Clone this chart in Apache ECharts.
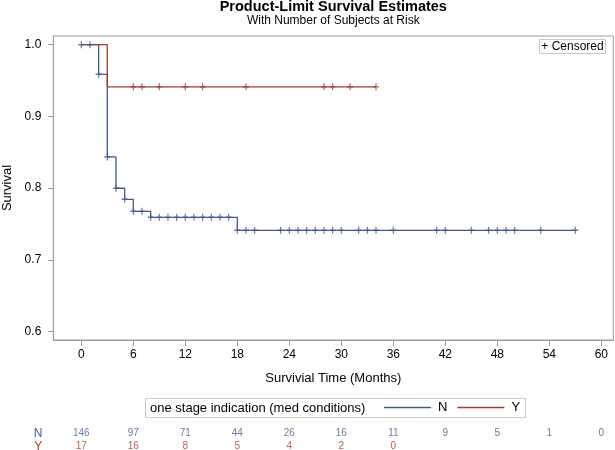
<!DOCTYPE html>
<html>
<head>
<meta charset="utf-8">
<script src="https://cdn.jsdelivr.net/npm/echarts@6/dist/echarts.min.js"></script>
<style>html,body{margin:0;padding:0;background:#fff}#c{width:615px;height:450px}</style>
</head>
<body>
<div id="c"></div>
<script>
// ---- data ----
var xTicks = [0, 6, 12, 18, 24, 30, 36, 42, 48, 54, 60];
var yTicks = [0.6, 0.7, 0.8, 0.9, 1.0];
// step curves [time, survival]
var curveN = [[0, 1.0], [2, 0.9587], [3, 0.8435], [4, 0.7999], [5, 0.7845], [6, 0.7678], [8, 0.7594], [18, 0.7413], [57, 0.7413]];
var curveY = [[0, 1.0], [3, 0.9412], [34, 0.9412]];
// censored observations [time, survival]
var censN = [[0, 1.0], [1, 1.0], [2, 0.9587], [3, 0.8435], [4, 0.7999], [5, 0.7845], [6, 0.7678], [7, 0.7678],
  [8, 0.7594], [9, 0.7594], [10, 0.7594], [11, 0.7594], [12, 0.7594], [13, 0.7594], [14, 0.7594], [15, 0.7594], [16, 0.7594], [17, 0.7594],
  [18, 0.7413], [19, 0.7413], [20, 0.7413], [23, 0.7413], [24, 0.7413], [25, 0.7413], [26, 0.7413], [27, 0.7413], [28, 0.7413],
  [29, 0.7413], [30, 0.7413], [32, 0.7413], [33, 0.7413], [34, 0.7413], [36, 0.7413], [41, 0.7413], [42, 0.7413], [45, 0.7413],
  [47, 0.7413], [48, 0.7413], [49, 0.7413], [50, 0.7413], [53, 0.7413], [57, 0.7413]];
var censY = [[6, 0.9412], [7, 0.9412], [9, 0.9412], [12, 0.9412], [14, 0.9412], [19, 0.9412], [28, 0.9412], [29, 0.9412], [31, 0.9412], [34, 0.9412]];
// number at risk
var riskTimesN = [0, 6, 12, 18, 24, 30, 36, 42, 48, 54, 60];
var riskN = [146, 97, 71, 44, 26, 16, 11, 9, 5, 1, 0];
var riskTimesY = [0, 6, 12, 18, 24, 30, 36];
var riskY = [17, 16, 8, 5, 4, 2, 0];
var groups = ['N', 'Y'];

var BLUE = '#445694', RED = '#A23A2E', AX = '#9c9c9c';
var FONT = '"Liberation Sans", Arial, sans-serif';
var plus = 'path://M5,0L5,10M0,5L10,5';

var chart = echarts.init(document.getElementById('c'), null, {renderer: 'canvas'});
var XMIN = -3.23, XMAX = 61.38;

var riskDataN = riskTimesN.map(function (t, i) { return [t, 'N', riskN[i]]; });
var riskDataY = riskTimesY.map(function (t, i) { return [t, 'Y', riskY[i]]; });

chart.setOption({
  animation: false,
  textStyle: {fontFamily: FONT},
  grid: [
    {left: 53.3, right: 1.7, top: 36, height: 304, show: true, borderColor: AX, borderWidth: 1, containLabel: false, outerBoundsMode: 'none'},
    {left: 53.3, right: 1.7, top: 427, height: 26, show: false, containLabel: false, outerBoundsMode: 'none'}
  ],
  xAxis: [{
    type: 'value', gridIndex: 0, min: XMIN, max: XMAX,
    name: 'Survivial Time (Months)', nameLocation: 'middle', nameGap: 32,
    nameTextStyle: {fontSize: 13, color: '#000', fontFamily: FONT},
    axisLine: {show: true, onZero: false, lineStyle: {color: AX}},
    axisTick: {show: true, length: 6, lineStyle: {color: AX}, customValues: xTicks},
    axisLabel: {fontSize: 12, color: '#000', margin: 9, customValues: xTicks, fontFamily: FONT},
    splitLine: {show: false}
  }, {
    type: 'value', gridIndex: 1, min: XMIN, max: XMAX, show: false
  }],
  yAxis: [{
    type: 'value', gridIndex: 0, min: 0.5884, max: 1.0121,
    name: 'Survival', nameLocation: 'middle', nameGap: 38, nameRotate: 90,
    nameTextStyle: {fontSize: 13, color: '#000', fontFamily: FONT},
    axisLine: {show: true, onZero: false, lineStyle: {color: AX}},
    axisTick: {show: true, length: 5, lineStyle: {color: AX}, customValues: yTicks},
    axisLabel: {fontSize: 12, color: '#000', margin: 12, customValues: yTicks, fontFamily: FONT,
      formatter: function (v) { return v.toFixed(1); }},
    splitLine: {show: false}
  }, {
    type: 'category', gridIndex: 1, data: groups, inverse: true,
    axisLine: {show: false}, axisTick: {show: false},
    axisLabel: {fontSize: 12, margin: 11, interval: 0, fontFamily: FONT,
      color: function (v) { return v === 'N' ? BLUE : RED; }}
  }],
  legend: {
    data: [{name: 'N'}, {name: 'Y'}],
    left: 384, top: 401, padding: 0, itemGap: 10,
    itemWidth: 47, itemHeight: 1.3, icon: 'rect',
    textStyle: {fontSize: 13, color: '#000', fontFamily: FONT, padding: [0, 0, 0, 2]},
    selectedMode: false
  },
  graphic: [
    {type: 'text', x: 333.3, y: 7, style: {text: 'Product-Limit Survival Estimates', fill: '#000', align: 'center', verticalAlign: 'middle', font: 'bold 14.5px ' + FONT}},
    {type: 'text', x: 333.3, y: 21, style: {text: 'With Number of Subjects at Risk', fill: '#000', align: 'center', verticalAlign: 'middle', font: '12px ' + FONT}},
    {type: 'rect', shape: {x: 539.5, y: 39.5, width: 66, height: 14}, style: {fill: '#fff', stroke: '#c8c8c8', lineWidth: 1}, z: 50},
    {type: 'text', x: 572.5, y: 47, style: {text: '+ Censored', fill: '#000', align: 'center', verticalAlign: 'middle', font: '12px ' + FONT}, z: 51},
    {type: 'rect', shape: {x: 145.5, y: 398.5, width: 380, height: 19}, style: {fill: 'none', stroke: '#c8c8c8', lineWidth: 1}},
    {type: 'text', x: 150, y: 408, style: {text: 'one stage indication (med conditions)', fill: '#000', align: 'left', verticalAlign: 'middle', font: '13px ' + FONT}}
  ],
  series: [
    {name: 'N', type: 'line', step: 'end', data: curveN, xAxisIndex: 0, yAxisIndex: 0, showSymbol: false, symbol: 'none',
      lineStyle: {color: BLUE, width: 1.3}, itemStyle: {color: BLUE}, z: 2},
    {name: 'Y', type: 'line', step: 'end', data: curveY, xAxisIndex: 0, yAxisIndex: 0, showSymbol: false, symbol: 'none',
      lineStyle: {color: RED, width: 1.3}, itemStyle: {color: RED}, z: 3},
    {name: 'Censored N', type: 'scatter', data: censN, symbol: plus, symbolSize: [6, 7],
      itemStyle: {color: 'none', borderColor: BLUE, borderWidth: 1.3}, z: 4},
    {name: 'Censored Y', type: 'scatter', data: censY, symbol: plus, symbolSize: [6, 7],
      itemStyle: {color: 'none', borderColor: RED, borderWidth: 1.3}, z: 4},
    {name: 'At risk N', type: 'scatter', xAxisIndex: 1, yAxisIndex: 1, data: riskDataN, symbolSize: 0,
      label: {show: true, position: 'inside', formatter: function (p) { return p.value[2]; }, color: BLUE, fontSize: 10, fontFamily: FONT}},
    {name: 'At risk Y', type: 'scatter', xAxisIndex: 1, yAxisIndex: 1, data: riskDataY, symbolSize: 0,
      label: {show: true, position: 'inside', formatter: function (p) { return p.value[2]; }, color: RED, fontSize: 10, fontFamily: FONT}}
  ]
});
</script>
</body>
</html>
